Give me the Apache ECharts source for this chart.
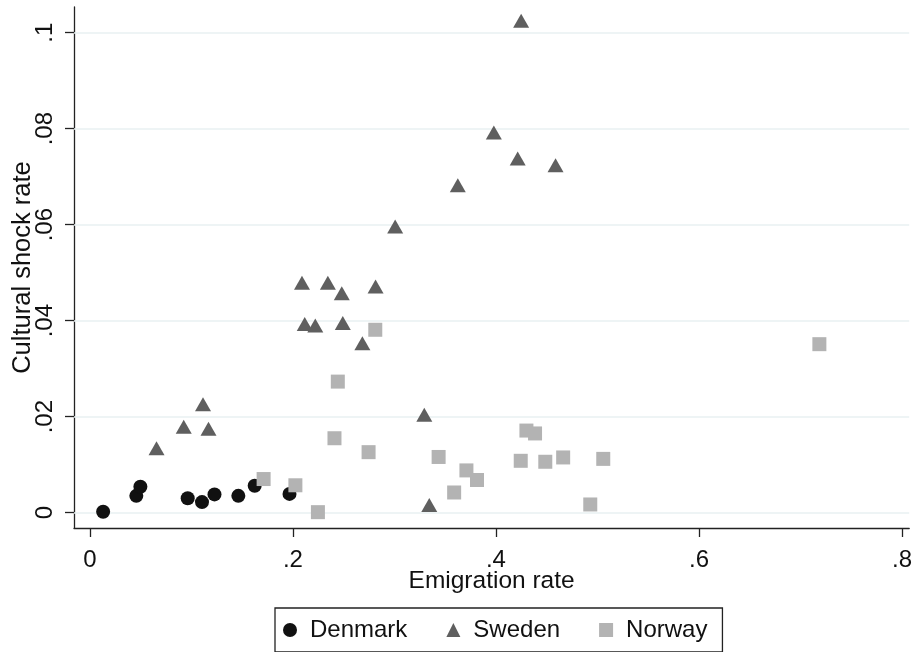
<!DOCTYPE html>
<html>
<head>
<meta charset="utf-8">
<script src="https://cdn.jsdelivr.net/npm/echarts@6/dist/echarts.min.js"></script>
<style>html,body{margin:0;padding:0;background:#fff;}#main{width:915px;height:652px;}</style>
</head>
<body>
<div id="main"></div>
<script>
// Data: [emigration rate, cultural shock rate]
const denmark = [
  [0.0130, 0.0002], [0.0457, 0.0035], [0.0497, 0.0054], [0.0963, 0.0030],
  [0.1104, 0.0022], [0.1227, 0.0038], [0.1462, 0.0035], [0.1623, 0.0056],
  [0.1966, 0.0039]
];
const sweden = [
  [0.0656, 0.0134], [0.0924, 0.0179], [0.1114, 0.0226], [0.1168, 0.0175],
  [0.2089, 0.0479], [0.2344, 0.0479], [0.2481, 0.0457], [0.2814, 0.0471],
  [0.2116, 0.0393], [0.2220, 0.0390], [0.2491, 0.0395], [0.2684, 0.0353],
  [0.4248, 0.1025], [0.3979, 0.0792], [0.4214, 0.0738], [0.4587, 0.0724],
  [0.3624, 0.0682], [0.3007, 0.0596], [0.3294, 0.0204], [0.3343, 0.0016]
];
const norway = [
  [0.2811, 0.0381], [0.2442, 0.0273], [0.2409, 0.0155], [0.2745, 0.0126],
  [0.1711, 0.0070], [0.2024, 0.0057], [0.2246, 0.0001], [0.3435, 0.0116],
  [0.3709, 0.0088], [0.3813, 0.0068], [0.3588, 0.0042], [0.4300, 0.0171],
  [0.4385, 0.0165], [0.4244, 0.0108], [0.4486, 0.0106], [0.4662, 0.0115],
  [0.5057, 0.0112], [0.4929, 0.0017], [0.7186, 0.0351]
];
const seriesNames = ['Denmark', 'Sweden', 'Norway'];
const xTicks = [0, 0.2, 0.4, 0.6, 0.8];
const yTicks = [0, 0.02, 0.04, 0.06, 0.08, 0.1];
const xTitle = 'Emigration rate';
const yTitle = 'Cultural shock rate';

const FONT = '"Liberation Sans", Arial, sans-serif';
const fmt = v => {
  if (Math.abs(v) < 1e-12) return '0';
  return String(+v.toFixed(4)).replace(/^0\./, '.');
};

const chart = echarts.init(document.getElementById('main'), null, {renderer: 'canvas'});
chart.setOption({
  animation: false,
  backgroundColor: '#ffffff',
  grid: {left: 74, top: 7, right: 1, bottom: 124, containLabel: false},
  xAxis: {
    type: 'value',
    min: -0.0157, max: 0.8071,
    name: xTitle, nameLocation: 'middle', nameGap: 41,
    nameMoveOverlap: false,
    nameTextStyle: {fontFamily: FONT, fontSize: 24.5, color: '#111'},
    axisLine: {show: true, onZero: false, lineStyle: {color: '#222', width: 1.3}},
    axisTick: {show: true, length: 9, customValues: xTicks, lineStyle: {color: '#222', width: 1.3}},
    axisLabel: {customValues: xTicks, formatter: fmt, margin: 20, fontFamily: FONT, fontSize: 24, color: '#111'},
    splitLine: {show: false}
  },
  yAxis: {
    type: 'value',
    min: -0.0032, max: 0.10535,
    name: yTitle, nameLocation: 'middle', nameGap: 38,
    nameMoveOverlap: false,
    nameTextStyle: {fontFamily: FONT, fontSize: 25.5, color: '#111'},
    axisLine: {show: true, onZero: false, lineStyle: {color: '#222', width: 1.3}},
    axisTick: {show: true, length: 9, customValues: yTicks, lineStyle: {color: '#222', width: 1.3}},
    axisLabel: {customValues: yTicks, formatter: fmt, rotate: 90, margin: 17, fontFamily: FONT, fontSize: 24, color: '#111'},
    splitLine: {show: false}
  },
  legend: {
    data: seriesNames,
    left: 275, top: 608,
    orient: 'horizontal',
    padding: [10, 15, 10, 8],
    borderColor: '#222', borderWidth: 1.3,
    itemWidth: 14, itemHeight: 14, itemGap: 39,
    textStyle: {fontFamily: FONT, fontSize: 24, color: '#111', padding: [0, 0, 0, 8]}
  },
  series: [
    {
      name: '_grid', type: 'scatter', data: [], z: 1, silent: true,
      markLine: {
        silent: true, symbol: 'none', animation: false, z: 1,
        label: {show: false},
        lineStyle: {color: '#e8f0f2', width: 1.6, type: 'solid'},
        data: yTicks.map(v => ({yAxis: v}))
      }
    },
    {
      name: 'Denmark', type: 'scatter', data: denmark, z: 3, clip: false,
      symbol: 'circle', symbolSize: 14,
      itemStyle: {color: '#111111', opacity: 1}
    },
    {
      name: 'Sweden', type: 'scatter', data: sweden, z: 3, clip: false,
      symbol: 'triangle', symbolSize: [16, 14],
      itemStyle: {color: '#5f5f5f', opacity: 1}
    },
    {
      name: 'Norway', type: 'scatter', data: norway, z: 3, clip: false,
      symbol: 'rect', symbolSize: 14,
      itemStyle: {color: '#b3b3b3', opacity: 1}
    }
  ]
});
</script>
</body>
</html>
